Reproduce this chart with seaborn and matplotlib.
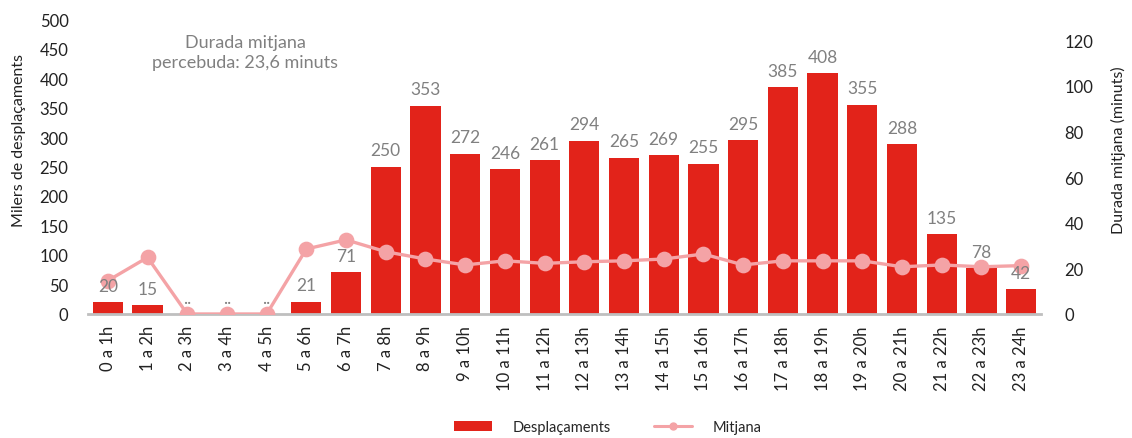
import numpy as np
import pandas as pd
import matplotlib
matplotlib.use("Agg")
import matplotlib.pyplot as plt
from matplotlib.patches import Patch
from matplotlib.lines import Line2D
import seaborn as sns

hours = ["0 a 1h", "1 a 2h", "2 a 3h", "3 a 4h", "4 a 5h", "5 a 6h", "6 a 7h", "7 a 8h",
         "8 a 9h", "9 a 10h", "10 a 11h", "11 a 12h", "12 a 13h", "13 a 14h", "14 a 15h",
         "15 a 16h", "16 a 17h", "17 a 18h", "18 a 19h", "19 a 20h", "20 a 21h", "21 a 22h",
         "22 a 23h", "23 a 24h"]
desplacaments = [20, 15, 0, 0, 0, 21, 71, 250, 353, 272, 246, 261, 294, 265, 269, 255,
                 295, 385, 408, 355, 288, 135, 78, 42]
bar_labels = ["20", "15", "..", "..", "..", "21", "71", "250", "353", "272", "246", "261",
              "294", "265", "269", "255", "295", "385", "408", "355", "288", "135", "78", "42"]
mitjana = [14.6, 24.8, 0, 0, 0, 28.5, 32.5, 27.3, 24.1, 21.5, 23.3, 22.2, 22.9, 23.3, 24.1,
           26.3, 21.5, 23.3, 23.3, 23.3, 20.7, 21.5, 20.7, 21.2]
left_ticks = [0, 50, 100, 150, 200, 250, 300, 350, 400, 450, 500]
right_ticks = [0, 20, 40, 60, 80, 100, 120]
note = "Durada mitjana\npercebuda: 23,6 minuts"

RED = "#E2231A"
PINK = "#F4A3A6"
GRAY_TXT = "#808080"

sns.set_theme(style="white")
plt.rcParams["font.family"] = ["Lato", "DejaVu Sans"]

df = pd.DataFrame({"hora": hours, "desp": desplacaments, "mit": mitjana})

fig = plt.figure(figsize=(11.32, 4.39), dpi=100)
ax = fig.add_axes([0.0777, 0.2825, 0.8419, 0.6719])

sns.barplot(data=df, x="hora", y="desp", color=RED, saturation=1, width=0.76,
            edgecolor="none", ax=ax)
ax.set_xlim(-0.5, len(hours) - 0.5)
ax.set_ylim(0, 500)
ax.set_yticks(left_ticks)
ax.tick_params(axis="y", labelsize=12, colors="#222222", length=0, pad=14)
ax.tick_params(axis="x", labelsize=12, colors="#222222", length=0, rotation=90, pad=8)
ax.set_xlabel("")
ax.set_ylabel("Milers de desplaçaments", fontsize=11.5, color="#222222")
ax.yaxis.set_label_coords(-0.065, 0.59)
for s in ["top", "right", "left"]:
    ax.spines[s].set_visible(False)
ax.spines["bottom"].set_color("#BFBFBF")
ax.spines["bottom"].set_linewidth(2)

ax2 = ax.twinx()
sns.pointplot(data=df, x="hora", y="mit", color=PINK, markers="o", markersize=9.5,
              linewidth=2.4, ax=ax2, zorder=5)
ax2.set_xlim(-0.5, len(hours) - 0.5)
ax2.set_ylim(0, 120 * 500 / 464)
ax2.set_yticks(right_ticks)
ax2.tick_params(axis="y", labelsize=12, colors="#222222", length=0, pad=17)
ax2.set_ylabel("Durada mitjana (minuts)", fontsize=11.5, color="#222222")
ax2.yaxis.set_label_coords(1.073, 0.56)
ax2.set_xlabel("")
for s in ["top", "right", "left", "bottom"]:
    ax2.spines[s].set_visible(False)

# value labels drawn on the top axes so they sit above the line
for p, lab in zip(ax.patches, bar_labels):
    ax2.annotate(lab, (p.get_x() + p.get_width() / 2, p.get_height()), xycoords=ax.transData,
                 xytext=(0, 6), textcoords="offset points", ha="center", va="bottom",
                 fontsize=12.5, color=GRAY_TXT, zorder=10)

ax.text(0.165, 0.95, note, transform=ax.transAxes, ha="center", va="top",
        fontsize=13, color=GRAY_TXT, linespacing=1.35)

handles = [Patch(facecolor=RED, edgecolor="none"),
           Line2D([0], [0], color=PINK, lw=2.2, marker="o", markersize=5)]
fig.legend(handles, ["Desplaçaments", "Mitjana"], loc="center", bbox_to_anchor=(0.537, 0.025),
           ncol=2, frameon=False, fontsize=10.5, handlelength=2.6, handleheight=0.6,
           columnspacing=3.0, handletextpad=1.4)

fig.savefig("out.png", dpi=100)
